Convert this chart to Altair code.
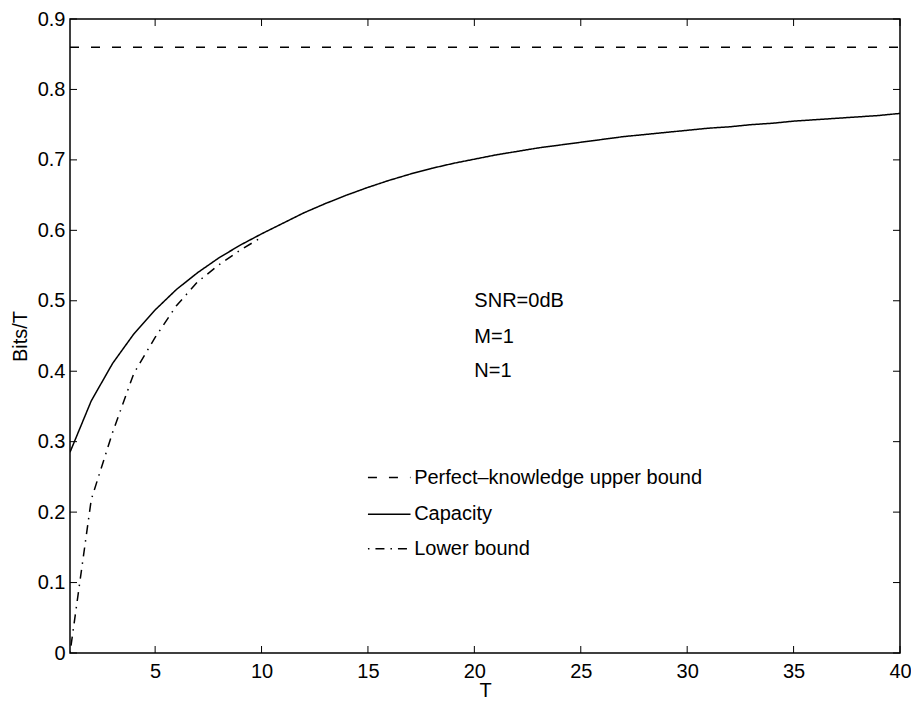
import altair as alt
import pandas as pd

# ---------------- data ----------------
T_capacity = list(range(1, 41))
capacity = [0.285, 0.358, 0.411, 0.453, 0.487, 0.516, 0.540, 0.561, 0.579, 0.595,
            0.610, 0.625, 0.638, 0.650, 0.661, 0.671, 0.680, 0.688, 0.695, 0.701,
            0.707, 0.712, 0.717, 0.721, 0.725, 0.729, 0.733, 0.736, 0.739, 0.742,
            0.745, 0.747, 0.750, 0.752, 0.755, 0.757, 0.759, 0.761, 0.763, 0.766]

T_lower = list(range(1, 11))
lower_bound = [0.0, 0.218, 0.313, 0.397, 0.448, 0.493, 0.527, 0.551, 0.572, 0.590]

T_upper = [1, 40]
upper_bound = [0.86, 0.86]

series_names = ["Perfect\u2013knowledge upper bound", "Capacity", "Lower bound"]
x_ticks = [5, 10, 15, 20, 25, 30, 35, 40]
y_ticks = [0, 0.1, 0.2, 0.3, 0.4, 0.5, 0.6, 0.7, 0.8, 0.9]
notes = ["SNR=0dB", "M=1", "N=1"]

# ---------------- layout constants ----------------
W, H = 830, 634
FONT = "Liberation Sans"
FS = 20
TICK = 7
notes_T = 20.0
notes_y = [0.499, 0.448, 0.400]
legend_T0, legend_T1, legend_text_T = 15.0, 17.0, 17.17
legend_y = [0.249, 0.197, 0.148]

# ---------------- tables ----------------
lines_df = pd.concat([
    pd.DataFrame({"T": T_upper, "v": upper_bound, "series": series_names[0]}),
    pd.DataFrame({"T": T_capacity, "v": capacity, "series": series_names[1]}),
    pd.DataFrame({"T": T_lower, "v": lower_bound, "series": series_names[2]}),
], ignore_index=True)

xs = alt.Scale(domain=[1, 40], nice=False, zero=False)
ys = alt.Scale(domain=[0, 0.9], nice=False, zero=False)
dash_scale = alt.Scale(domain=series_names, range=[[9, 12], [1, 0], [1.5, 6, 9, 6]])

x_axis = alt.Axis(values=x_ticks, title="T", tickSize=0, labelPadding=8,
                  domain=False, grid=False, titleY=27, titleBaseline="top",
                  labelFlush=False)
y_axis = alt.Axis(values=y_ticks, title="Bits/T", tickSize=0, labelPadding=5,
                  domain=False, grid=False, format="~g", titleX=-50, titleY=H / 2,
                  titleAngle=-90, titleBaseline="middle", titleAlign="center",
                  labelFlush=False)


def X():
    return alt.X("T:Q", scale=xs, axis=x_axis)


def Y():
    return alt.Y("v:Q", scale=ys, axis=y_axis)


base_lines = alt.Chart(lines_df).mark_line(color="black", strokeWidth=1.5, clip=True).encode(
    x=X(), y=Y(),
    strokeDash=alt.StrokeDash("series:N", scale=dash_scale, legend=None),
    order=alt.Order("T:Q"),
)

xt_df = pd.DataFrame({"T": x_ticks})
yt_df = pd.DataFrame({"v": y_ticks})

xtick_bottom = alt.Chart(xt_df).mark_rule(color="black", strokeWidth=1).encode(
    x=X(), y=alt.value(H), y2=alt.value(H - TICK))
xtick_top = alt.Chart(xt_df).mark_rule(color="black", strokeWidth=1).encode(
    x=X(), y=alt.value(0), y2=alt.value(TICK))
ytick_left = alt.Chart(yt_df).mark_rule(color="black", strokeWidth=1).encode(
    y=Y(), x=alt.value(0), x2=alt.value(TICK))
ytick_right = alt.Chart(yt_df).mark_rule(color="black", strokeWidth=1).encode(
    y=Y(), x=alt.value(W), x2=alt.value(W - TICK))

notes_df = pd.DataFrame({"T": [notes_T] * len(notes), "v": notes_y, "label": notes})
notes_layer = alt.Chart(notes_df).mark_text(
    align="left", baseline="middle", font=FONT, fontSize=FS, color="black").encode(
    x=X(), y=Y(), text="label:N")

legend_line_df = pd.DataFrame({"series": series_names, "T": [legend_T0] * 3,
                               "T2": [legend_T1] * 3, "v": legend_y})
legend_text_df = pd.DataFrame({"series": series_names, "T": [legend_text_T] * 3, "v": legend_y})
legend_lines = alt.Chart(legend_line_df).mark_rule(color="black", strokeWidth=1.5).encode(
    x=X(), x2="T2:Q", y=Y(),
    strokeDash=alt.StrokeDash("series:N", scale=dash_scale, legend=None))
legend_text = alt.Chart(legend_text_df).mark_text(
    align="left", baseline="middle", font=FONT, fontSize=FS, color="black").encode(
    x=X(), y=Y(), text="series:N")

chart = alt.layer(
    base_lines, xtick_bottom, xtick_top, ytick_left, ytick_right,
    notes_layer, legend_lines, legend_text,
).properties(
    width=W, height=H,
    autosize=alt.AutoSizeParams(type="none"),
    padding={"left": 62, "top": 11, "right": 11, "bottom": 46},
    background="white",
).configure_view(
    stroke="black", strokeWidth=1.5, fill="white"
).configure_axis(
    labelFont=FONT, titleFont=FONT, labelFontSize=FS, titleFontSize=FS,
    titleFontWeight="normal", labelColor="black", titleColor="black",
)

chart.save("out.html", embed_options={"renderer": "svg", "actions": False})
